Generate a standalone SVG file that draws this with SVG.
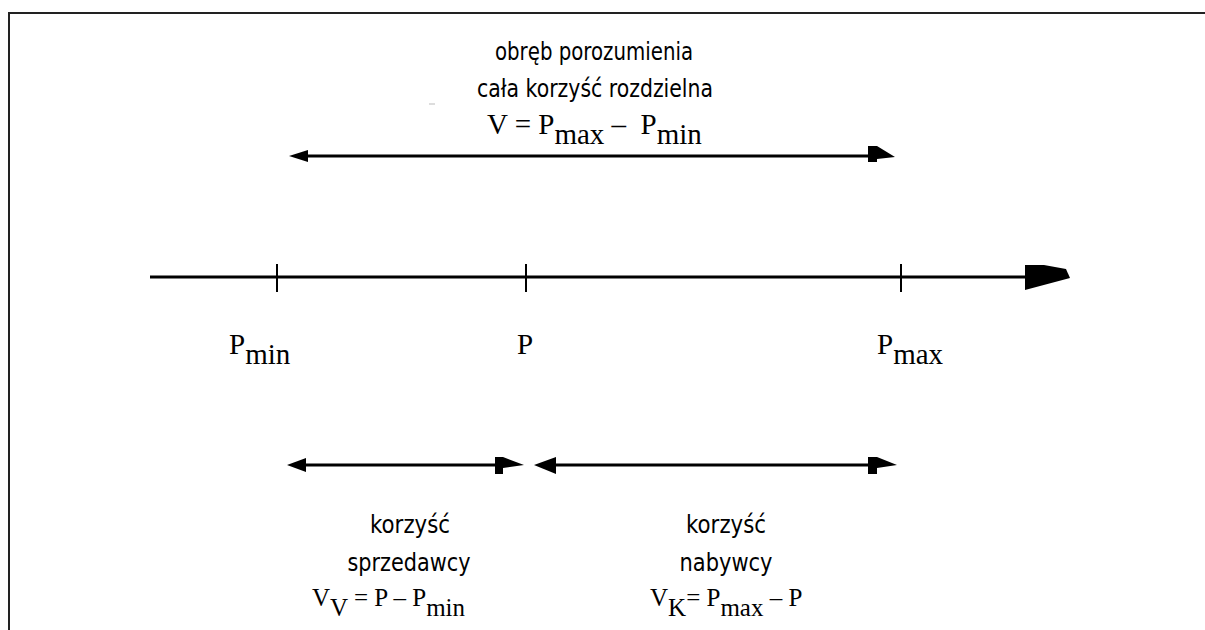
<svg xmlns="http://www.w3.org/2000/svg" width="1205" height="630" viewBox="0 0 1205 630">
<style>
.frame{stroke:#222;stroke-width:2;fill:none}
.ln{stroke:#000;stroke-width:3;fill:none}
.tick{stroke:#000;stroke-width:2;fill:none}
.head{fill:#000;stroke:none}
.sans{font-family:"DejaVu Sans","Verdana",sans-serif;font-size:25px;fill:#000;text-anchor:middle}
.serif{font-family:"Liberation Serif","Times New Roman",serif;font-size:29px;fill:#000}
.small{font-size:25px}
</style>
<rect width="1205" height="630" fill="#fff"/>
<g id="frame">
<path class="frame" d="M9,630 V13 H1205"/>
</g>
<g id="connectors">
<line class="ln" x1="150" y1="277" x2="1028" y2="277"/>
<polygon class="head" points="1025,265 1044,265 1066,269 1070,278 1025,290"/>
<line class="tick" x1="277" y1="264" x2="277" y2="292"/>
<line class="tick" x1="526" y1="264" x2="526" y2="292"/>
<line class="tick" x1="901" y1="264" x2="901" y2="292"/>
<line class="ln" x1="300" y1="156" x2="872" y2="156"/>
<polygon class="head" points="289,156 308,150 308,162"/>
<polygon class="head" points="868,146 877,146 895,157 877,159 877,162 868,162"/>
<line class="ln" x1="300" y1="465" x2="500" y2="465"/>
<polygon class="head" points="287,465 306,458 306,472"/>
<polygon class="head" points="495,457 503,457 524,465 503,468 503,474 495,474"/>
<line class="ln" x1="550" y1="465" x2="875" y2="465"/>
<polygon class="head" points="534,465 556,457 556,474"/>
<polygon class="head" points="868,457 877,457 897,465 877,468 877,474 868,474"/>
<line x1="429" y1="104" x2="435" y2="104" stroke="#bbb" stroke-width="1"/>
</g>
<g id="title">
<text class="sans" x="594" y="60" textLength="198" lengthAdjust="spacingAndGlyphs">obręb porozumienia</text>
<text class="sans" x="595" y="97" textLength="236" lengthAdjust="spacingAndGlyphs">cała korzyść rozdzielna</text>
<text class="serif" x="487" y="134">V = P<tspan dy="10">max</tspan><tspan dy="-10"> –&#160; P</tspan><tspan dy="10">min</tspan></text>
</g>
<g id="labels">
<text class="serif" x="229" y="354">P<tspan dy="10">min</tspan></text>
<text class="serif" x="517" y="354">P</text>
<text class="serif" x="877" y="354">P<tspan dy="10">max</tspan></text>
</g>
<g id="seller">
<text class="sans" x="410" y="533" textLength="80" lengthAdjust="spacingAndGlyphs">korzyść</text>
<text class="sans" x="409" y="571" textLength="123" lengthAdjust="spacingAndGlyphs">sprzedawcy</text>
<text class="serif small" x="312" y="606">V<tspan dy="10">V</tspan><tspan dy="-10"> = P – P</tspan><tspan dy="10">min</tspan></text>
</g>
<g id="buyer">
<text class="sans" x="726" y="533" textLength="80" lengthAdjust="spacingAndGlyphs">korzyść</text>
<text class="sans" x="726" y="571" textLength="93" lengthAdjust="spacingAndGlyphs">nabywcy</text>
<text class="serif small" x="650" y="606">V<tspan dy="10">K</tspan><tspan dy="-10">= P</tspan><tspan dy="10">max</tspan><tspan dy="-10"> – P</tspan></text>
</g>
</svg>
